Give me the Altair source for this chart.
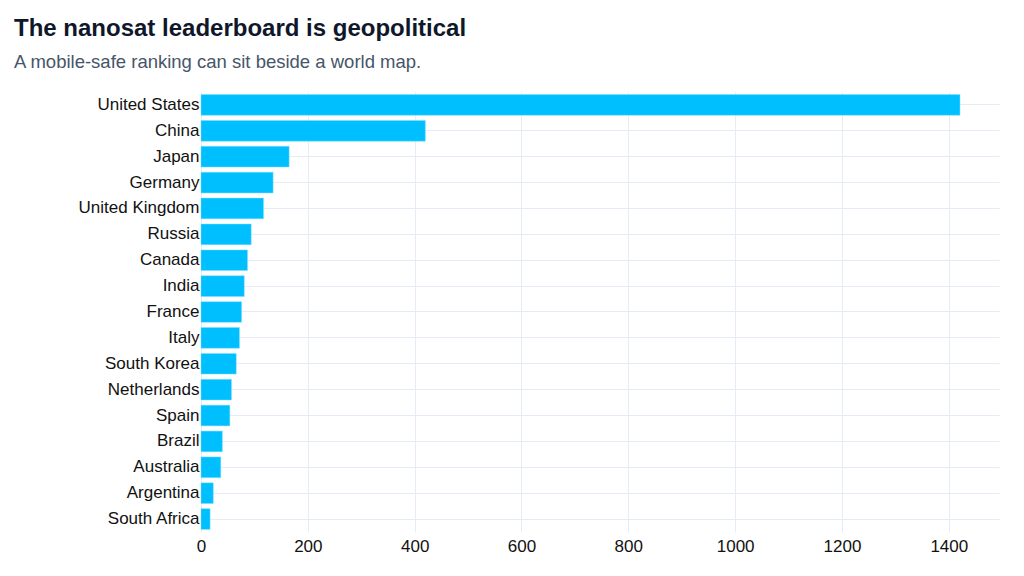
import altair as alt
import pandas as pd

# Nanosats launched by country
countries = ["United States", "China", "Japan", "Germany", "United Kingdom", "Russia",
             "Canada", "India", "France", "Italy", "South Korea", "Netherlands",
             "Spain", "Brazil", "Australia", "Argentina", "South Africa"]
nanosats = [1421, 420, 165, 135, 117, 94, 87, 81, 76, 72, 66, 57, 54, 40, 37, 23, 17]

df = pd.DataFrame({"Country": countries, "Nanosats": nanosats})

bars = alt.Chart(df).mark_bar(color="#00BFFF", stroke="#7FDFFF", strokeWidth=0.5).encode(
    y=alt.Y("Country:N", sort=countries, title=None,
            scale=alt.Scale(paddingInner=0.2, paddingOuter=0.1),
            axis=alt.Axis(grid=True, bandPosition=0.5, ticks=False, domain=False,
                          labelFontSize=17, labelColor="#111111", labelPadding=2,
                          labelFont="Liberation Sans", gridColor="#E5ECF6")),
    x=alt.X("Nanosats:Q", title=None,
            scale=alt.Scale(domain=[0, 1494], nice=False),
            axis=alt.Axis(values=[0, 200, 400, 600, 800, 1000, 1200, 1400],
                          format="d", ticks=False, domain=False, labelFontSize=17,
                          labelFlush=False, labelColor="#111111", labelPadding=6,
                          labelFont="Liberation Sans", gridColor="#E5ECF6")),
    tooltip=["Country", "Nanosats"]
)

chart = bars.properties(
    width=798,
    height=440,
    autosize=alt.AutoSizeParams(type="none"),
    padding={"left": 193, "top": 84, "right": 17, "bottom": 36},
    title=alt.Title(
        "The nanosat leaderboard is geopolitical",
        subtitle="A mobile-safe ranking can sit beside a world map.",
        anchor="start", frame="group", dx=-187, offset=21,
        font="Liberation Sans", fontSize=24, fontWeight="bold", color="#0F172A",
        subtitleFont="Liberation Sans", subtitleFontSize=18.5, subtitleColor="#475569",
        subtitlePadding=12
    )
).configure_view(stroke=None)

chart.save("out.html", embed_options={"renderer": "svg", "actions": False})
